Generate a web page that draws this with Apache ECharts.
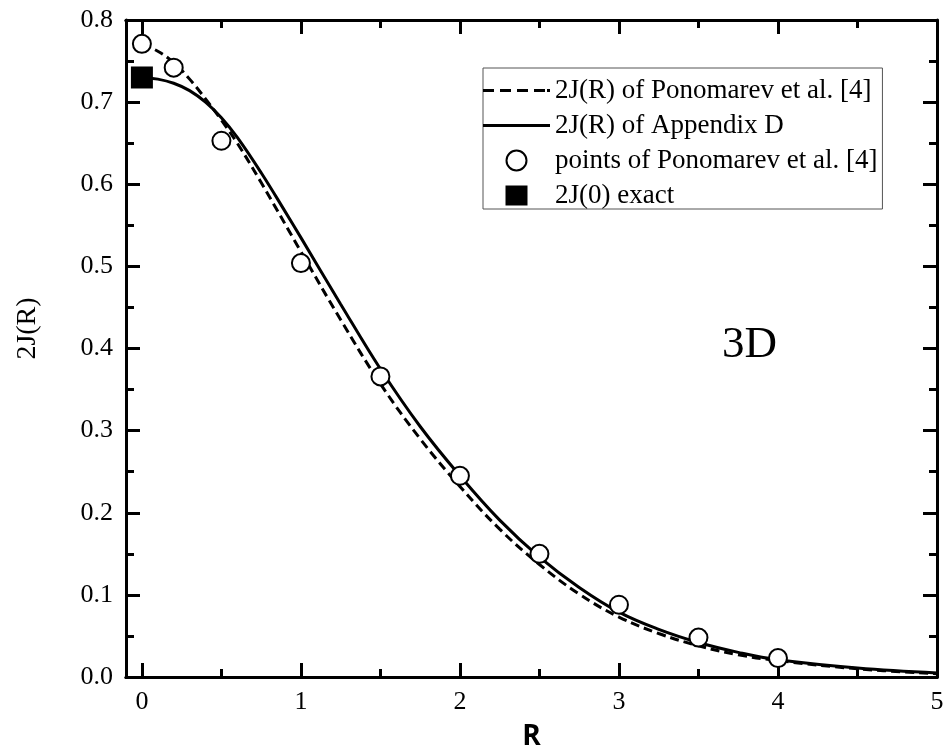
<!DOCTYPE html>
<html>
<head>
<meta charset="utf-8">
<script src="https://cdn.jsdelivr.net/npm/echarts@6/dist/echarts.min.js"></script>
<style>html,body{margin:0;padding:0;background:#fff}#c{width:950px;height:749px}</style>
</head>
<body>
<div id="c"></div>
<script>
// ---- data ----
const R_dash = [0,0.1,0.2,0.3,0.4,0.5,0.6,0.75,1.0,1.25,1.5,1.75,2.0,2.25,2.5,2.75,3.0,3.25,3.5,3.75,4.0,4.5,5.0];
const J_dash = [0.770,0.762,0.748,0.728,0.704,0.678,0.650,0.602,0.518,0.435,0.357,0.290,0.232,0.180,0.137,0.101,0.073,0.053,0.038,0.027,0.020,0.010,0.004];
const R_solid = [0,0.1,0.2,0.3,0.4,0.5,0.6,0.75,0.9,1.0,1.25,1.5,1.75,2.0,2.25,2.5,2.75,3.0,3.25,3.5,3.75,4.0,4.5,5.0];
const J_solid = [0.730,0.728,0.723,0.714,0.700,0.681,0.657,0.614,0.567,0.535,0.454,0.375,0.305,0.245,0.191,0.146,0.109,0.079,0.058,0.042,0.030,0.021,0.011,0.005];
const R_pts = [0,0.2,0.5,1,1.5,2,2.5,3,3.5,4];
const J_pts = [0.771,0.742,0.653,0.504,0.366,0.245,0.150,0.088,0.048,0.023];
const R_exact = [0];
const J_exact = [0.73];
const xMajor = [0,1,2,3,4,5];
const xMinor = [0.5,1.5,2.5,3.5,4.5];
const names = ['2J(R) of Ponomarev et al. [4]','2J(R) of Appendix D','points of Ponomarev et al. [4]','2J(0) exact'];

const zip = (a,b) => a.map((v,i)=>[v,b[i]]);
const serif = 'Liberation Serif';
const X_MIN = -0.1, X_MAX = 5;

// legend icons (shapes only)
const ICON_DASH = 'path://M0,0h11v3h-11zM17,0h11v3h-11zM34,0h11v3h-11zM51,0h11v3h-11zM64,0h3v3h-3z';
const ICON_SOLID = 'path://M0,0h67v3h-67z';
const ICON_SQUARE = 'path://M0,0h11v10h-11z';

function xAx(pos, values, len, labels, extra) {
  return Object.assign({
    type:'value', position:pos, min:X_MIN, max:X_MAX,
    axisLine:{show:true, onZero:false, lineStyle:{color:'#000', width:3}},
    axisTick:{show:true, inside:true, length:len, customValues:values, lineStyle:{color:'#000', width:3}},
    axisLabel:labels ? {show:true, customValues:values, margin:12, color:'#000', fontFamily:serif, fontSize:26} : {show:false},
    splitLine:{show:false}
  }, extra||{});
}
function yAx(pos, labels, extra) {
  return Object.assign({
    type:'value', position:pos, min:0, max:0.8, interval:0.1,
    axisLine:{show:true, onZero:false, lineStyle:{color:'#000', width:3}},
    axisTick:{show:true, inside:true, length:14, lineStyle:{color:'#000', width:3}},
    minorTick:{show:true, splitNumber:2, length:8, lineStyle:{color:'#000', width:3}},
    axisLabel:labels ? {show:true, margin:13, color:'#000', fontFamily:serif, fontSize:26, formatter:v=>v.toFixed(1)} : {show:false},
    splitLine:{show:false}, minorSplitLine:{show:false}
  }, extra||{});
}

const chart = echarts.init(document.getElementById('c'), null, {renderer:'canvas'});
chart.setOption({
  animation:false,
  backgroundColor:'#fff',
  grid:{left:126, right:13, top:20, bottom:72, containLabel:false, outerBoundsMode:'none'},
  title:{text:'3D', left:717, top:318, textStyle:{fontFamily:serif, fontSize:45, fontWeight:'normal', color:'#000'}},
  legend:{
    orient:'vertical', left:483, top:68,
    itemWidth:67, itemHeight:20, itemGap:8,
    padding:[9,5,0,0],
    borderColor:'#555', borderWidth:1,
    textStyle:{color:'#000', fontFamily:serif, fontSize:27, lineHeight:26},
    data:[
      {name:names[0], icon:ICON_DASH, itemStyle:{color:'#000'}},
      {name:names[1], icon:ICON_SOLID, itemStyle:{color:'#000'}},
      {name:names[2], icon:'circle'},
      {name:names[3], icon:ICON_SQUARE}
    ]
  },
  xAxis:[
    xAx('bottom', xMajor, 14, true, {name:'R', nameLocation:'middle', nameGap:46,
      nameTextStyle:{fontFamily:'Open Sans', fontWeight:'bold', fontSize:28, color:'#000'}}),
    xAx('bottom', xMinor, 8, false),
    xAx('top', xMajor, 14, false),
    xAx('top', xMinor, 8, false)
  ],
  yAxis:[
    yAx('left', true, {name:'2J(R)', nameLocation:'middle', nameGap:84, nameRotate:90,
      nameTextStyle:{fontFamily:serif, fontSize:28, color:'#000', padding:[0,0,0,40]}}),
    yAx('right', false)
  ],
  series:[
    {name:names[0], type:'line', data:zip(R_dash,J_dash), smooth:0.4, symbol:'none',
     lineStyle:{color:'#000', width:3, type:[9,5]}, itemStyle:{color:'#000'}, z:2},
    {name:names[1], type:'line', data:zip(R_solid,J_solid), smooth:0.4, symbol:'none',
     lineStyle:{color:'#000', width:3, type:'solid'}, itemStyle:{color:'#000'}, z:2},
    {name:names[2], type:'scatter', data:zip(R_pts,J_pts), symbol:'circle', symbolSize:18,
     itemStyle:{color:'#fff', borderColor:'#000', borderWidth:2, opacity:1}, z:3},
    {name:names[3], type:'scatter', data:zip(R_exact,J_exact), symbol:'rect', symbolSize:22,
     itemStyle:{color:'#000', opacity:1}, z:4}
  ]
});
</script>
</body>
</html>
